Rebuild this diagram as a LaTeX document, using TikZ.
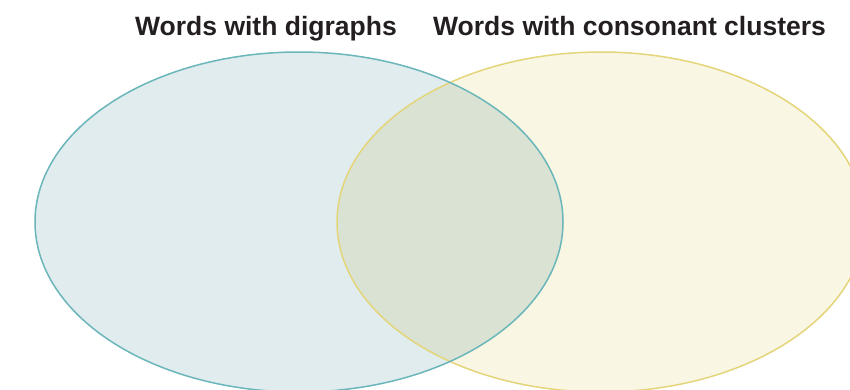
\documentclass[tikz,border=0pt]{standalone}
\usepackage{fontspec}
\setsansfont{Liberation Sans}
\usepackage{tikz}

\definecolor{tealline}{HTML}{6BB6BA}
\definecolor{tealfill}{HTML}{E0ECEE}
\definecolor{yellowline}{HTML}{E4D57A}
\definecolor{yellowfill}{HTML}{F9F6E3}
\definecolor{titleink}{HTML}{231F20}

\begin{document}
\begin{tikzpicture}[x=1pt, y=-1pt,
    title/.style={anchor=base west, inner sep=0pt, text=titleink,
                  font=\sffamily\bfseries\fontsize{26.5}{30}\selectfont},
    setline/.style={line width=1.5pt}]
  \useasboundingbox (0,0) rectangle (850,389);
  \clip (0,0) rectangle (850,389);

  % fills first, overlap is darker where they meet
  \fill [tealfill] (299,222) ellipse [x radius=264, y radius=170];
  \begin{scope}[blend mode=multiply]
    \fill [yellowfill] (601,222) ellipse [x radius=264, y radius=170];
  \end{scope}

  % outlines on top
  \draw [setline, yellowline] (601,222) ellipse [x radius=264, y radius=170];
  \draw [setline, tealline] (299,222) ellipse [x radius=264, y radius=170];

  % headings
  \node [title] (digraphs) at (135,35) {Words with digraphs};
  \node [title] (clusters) at (433,35) {Words with consonant clusters};
\end{tikzpicture}
\end{document}
